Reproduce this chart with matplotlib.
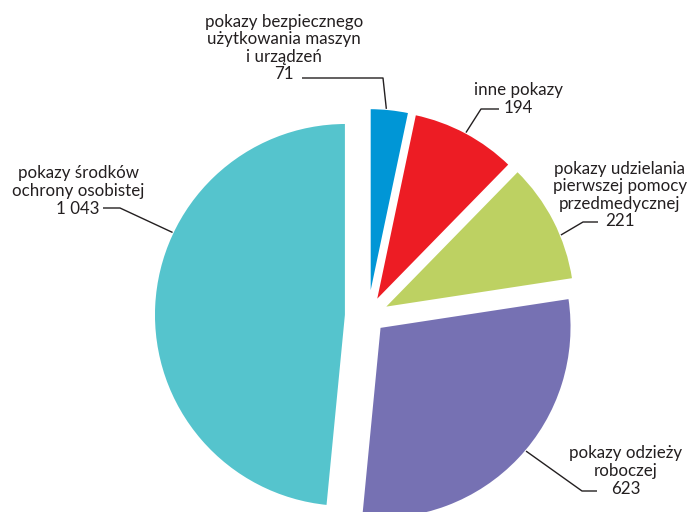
import math
import matplotlib
matplotlib.use("Agg")
import matplotlib.pyplot as plt

categories = [
    "pokazy bezpiecznego\nużytkowania maszyn\ni urządzeń",
    "inne pokazy",
    "pokazy udzielania\npierwszej pomocy\nprzedmedycznej",
    "pokazy odzieży\nroboczej",
    "pokazy środków\nochrony osobistej",
]
values = [71, 194, 221, 623, 1043]
value_labels = ["71", "194", "221", "623", "1 043"]
colors = ["#0096D6", "#ED1C24", "#BDD162", "#7671B3", "#55C4CD"]
explode = [0.083, 0.083, 0.09, 0.083, 0.115]

W, H = 691, 512
CX, CY, R = 368, 316, 192  # pie centre / radius in pixels


def px(x, y):
    return ((x - CX) / R, (CY - y) / R)


fig = plt.figure(figsize=(W / 100, H / 100), dpi=100)
ax = fig.add_axes([0, 0, 1, 1])
wedges, _ = ax.pie(values, explode=explode, startangle=90, counterclock=False,
                   colors=colors, radius=1.0,
                   wedgeprops=dict(edgecolor="white", linewidth=1.5))
ax.set_xlim((0 - CX) / R, (W - CX) / R)
ax.set_ylim((CY - H) / R, CY / R)
ax.set_aspect("auto")
ax.axis("off")

# label layout: text centre (px), elbow point (px), text-side end (px), fraction along wedge
layout = [
    dict(text=(284, 48), elbow=(383, 78), end=(302, 78), frac=0.42),
    dict(text=(518, 99), elbow=(481, 109), end=(499, 109), frac=0.5),
    dict(text=(620, 195), elbow=(583, 222), end=(598, 222), frac=0.63),
    dict(text=(626, 471), elbow=(582, 491), end=(597, 491), frac=0.47),
    dict(text=(78, 191), elbow=(120, 208), end=(103, 208), frac=0.63),
]

font = dict(family=["Lato", "DejaVu Sans"], fontsize=12.2, color="#231F20")
for w, cat, vl, lay in zip(wedges, categories, value_labels, layout):
    t1, t2 = w.theta1, w.theta2
    ang = math.radians(t2 - (t2 - t1) * lay["frac"])
    cx, cy = w.center
    ex, ey = cx + w.r * math.cos(ang), cy + w.r * math.sin(ang)
    bx, by = px(*lay["elbow"])
    sx, sy = px(*lay["end"])
    ax.plot([ex, bx, sx], [ey, by, sy], color="#231F20", lw=1.0, solid_capstyle="butt")
    tx, ty = px(*lay["text"])
    ax.text(tx, ty, cat + "\n" + vl, ha="center", va="center",
            linespacing=1.12, **font)

fig.savefig("out.png", dpi=100)
